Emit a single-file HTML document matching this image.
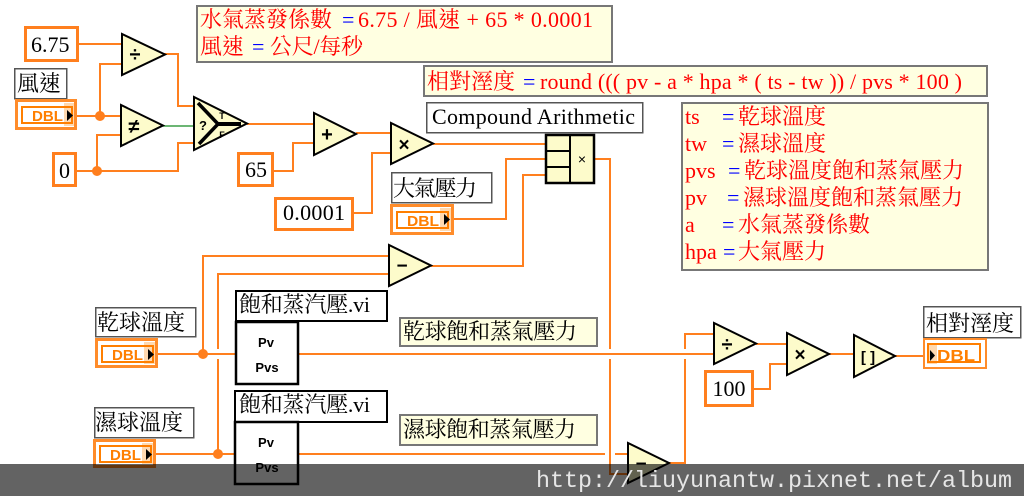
<!DOCTYPE html>
<html>
<head>
<meta charset="utf-8">
<style>
html,body{margin:0;padding:0;background:#fff;}
body{width:1024px;height:496px;overflow:hidden;}
svg{display:block;}
.t{font-family:"Liberation Serif","Noto Serif CJK TC","Noto Serif CJK SC",serif;font-size:22px;}
.r{fill:#f00;}
.b{fill:#0000ff;}
.k{fill:#000;}
.w{fill:none;stroke:#ff7f1e;stroke-width:2;}
.n{fill:#fdfbcb;stroke:#000;stroke-width:2;stroke-linejoin:miter;}
.sym{font-family:"Liberation Sans",sans-serif;font-weight:bold;fill:#000;text-anchor:middle;}
.dbl{font-family:"Liberation Sans",sans-serif;font-weight:bold;fill:#ff7f00;}
</style>
</head>
<body>
<svg width="1024" height="496" viewBox="0 0 1024 496" xmlns="http://www.w3.org/2000/svg">
<rect x="0" y="0" width="1024" height="496" fill="#fff"/>

<!-- ============ WIRES ============ -->
<g class="w">
  <path d="M79,44 H122"/>
  <path d="M77,116 H121"/>
  <path d="M100,116 V64 H122"/>
  <path d="M77,171 H178 V143 H194"/>
  <path d="M97,171 V135 H121"/>
  <path d="M164,54 H178 V106 H194"/>
  <path d="M247,124 H314"/>
  <path d="M274,171 H293 V143 H314"/>
  <path d="M356,133 H391"/>
  <path d="M354,213 H372 V153 H391"/>
  <path d="M433,144 H546"/>
  <path d="M454,219 H506 V159 H546"/>
  <path d="M431,266 H523 V175 H546"/>
  <!-- compound output down -->
  <path d="M594,159 H610 V349"/>
  <path d="M610,359 V474 H628"/>
  <!-- dry bulb -->
  <path d="M158,354 H236"/>
  <path d="M203,354 V256 H389"/>
  <path d="M298,354 H714"/>
  <!-- wet bulb -->
  <path d="M156,454 H235"/>
  <path d="M218,349 V274 H389"/>
  <path d="M218,454 V359"/>
  <path d="M298,454 H605"/>
  <path d="M615,454 H628"/>
  <!-- bottom subtract out -> divide top -->
  <path d="M669,463 H685 V359"/>
  <path d="M685,349 V334 H714"/>
  <path d="M756,344 H787"/>
  <path d="M754,389 H770 V364 H787"/>
  <path d="M829,354 H854"/>
  <path d="M895,356 H925"/>
</g>
<!-- boolean wire -->
<path d="M163,126 H194" fill="none" stroke="#3c9e46" stroke-width="1.6"/>

<!-- junction dots -->
<g fill="#ff7f1e">
  <circle cx="100" cy="116" r="5"/>
  <circle cx="97" cy="171" r="5"/>
  <circle cx="203" cy="354" r="5"/>
  <circle cx="218" cy="454" r="5"/>
</g>

<!-- ============ COMMENTS ============ -->
<rect x="197" y="6" width="415" height="56" fill="#ffffe1" stroke="#777" stroke-width="2"/>
<text class="t r" x="200" y="27">水氣蒸發係數</text>
<text class="t b" x="342" y="27">=</text>
<text class="t r" x="358" y="27" textLength="235" lengthAdjust="spacing">6.75 / 風速 + 65 * 0.0001</text>
<text class="t r" x="200" y="54">風速</text>
<text class="t b" x="252" y="54">=</text>
<text class="t r" x="270" y="54" textLength="93" lengthAdjust="spacing">公尺/每秒</text>

<rect x="424" y="66" width="563" height="30" fill="#ffffe1" stroke="#777" stroke-width="2"/>
<text class="t r" x="427" y="89">相對溼度</text>
<text class="t b" x="523" y="89">=</text>
<text class="t r" x="540" y="89" textLength="422" lengthAdjust="spacing">round ((( pv - a * hpa * ( ts - tw )) / pvs * 100 )</text>

<rect x="682" y="103" width="306" height="167" fill="#ffffe1" stroke="#777" stroke-width="2"/>
<g class="t">
  <text class="r" x="685" y="124">ts</text><text class="b" x="722" y="124">=</text><text class="r" x="738" y="124">乾球溫度</text>
  <text class="r" x="685" y="151">tw</text><text class="b" x="722" y="151">=</text><text class="r" x="738" y="151">濕球溫度</text>
  <text class="r" x="685" y="178">pvs</text><text class="b" x="728" y="178">=</text><text class="r" x="744" y="178">乾球溫度飽和蒸氣壓力</text>
  <text class="r" x="685" y="205">pv</text><text class="b" x="727" y="205">=</text><text class="r" x="743" y="205">濕球溫度飽和蒸氣壓力</text>
  <text class="r" x="685" y="232">a</text><text class="b" x="722" y="232">=</text><text class="r" x="738" y="232">水氣蒸發係數</text>
  <text class="r" x="685" y="259">hpa</text><text class="b" x="723" y="259">=</text><text class="r" x="738" y="259">大氣壓力</text>
</g>

<rect x="400" y="318" width="197" height="28" fill="#ffffe1" stroke="#777" stroke-width="2"/>
<text class="t k" x="403" y="339" textLength="174" lengthAdjust="spacing">乾球飽和蒸氣壓力</text>
<rect x="400" y="415" width="197" height="30" fill="#ffffe1" stroke="#777" stroke-width="2"/>
<text class="t k" x="403" y="437" textLength="173" lengthAdjust="spacing">濕球飽和蒸氣壓力</text>

<!-- ============ LABELS ============ -->
<g fill="#fff" stroke="#555" stroke-width="1.5">
  <rect x="14.75" y="68.75" width="52" height="30"/>
  <rect x="391.75" y="172.75" width="100" height="30"/>
  <rect x="95.75" y="307.75" width="100" height="29"/>
  <rect x="94.75" y="407.75" width="99" height="30"/>
  <rect x="923.75" y="306.75" width="97" height="31"/>
  <rect x="426.75" y="102.75" width="216" height="30"/>
</g>
<text class="t k" x="17" y="91">風速</text>
<text class="t k" x="393" y="196" textLength="84" lengthAdjust="spacing">大氣壓力</text>
<text class="t k" x="97" y="330">乾球溫度</text>
<text class="t k" x="95" y="430">濕球溫度</text>
<text class="t k" x="926" y="331">相對溼度</text>
<text class="t k" x="432" y="124" textLength="203" lengthAdjust="spacing">Compound Arithmetic</text>

<!-- VI labels and boxes -->
<rect x="236" y="291" width="151" height="30" fill="#fff" stroke="#000" stroke-width="2"/>
<text class="t k" x="239" y="312" textLength="131" lengthAdjust="spacing">飽和蒸汽壓.vi</text>
<rect x="236" y="322" width="62" height="62" fill="#fff" stroke="#000" stroke-width="2.5"/>
<text class="sym" x="266" y="347" font-size="13">Pv</text>
<text class="sym" x="267" y="372" font-size="13">Pvs</text>

<rect x="235" y="391" width="152" height="31" fill="#fff" stroke="#000" stroke-width="2"/>
<text class="t k" x="239" y="412" textLength="131" lengthAdjust="spacing">飽和蒸汽壓.vi</text>
<rect x="235" y="422" width="63" height="62" fill="#fff" stroke="#000" stroke-width="2.5"/>
<text class="sym" x="266" y="447" font-size="13">Pv</text>
<text class="sym" x="267" y="472" font-size="13">Pvs</text>

<!-- ============ CONSTANTS ============ -->
<g fill="#fff" stroke="#ff7f1e" stroke-width="3">
  <rect x="25.5" y="27.5" width="52" height="33"/>
  <rect x="53.5" y="153.5" width="22" height="32"/>
  <rect x="238.5" y="153.5" width="34" height="32"/>
  <rect x="275.5" y="198.5" width="77" height="31"/>
  <rect x="705.5" y="371.5" width="47" height="34"/>
</g>
<text class="t k" x="31" y="52">6.75</text>
<text class="t k" x="64.5" y="178" text-anchor="middle">0</text>
<text class="t k" x="256" y="177" text-anchor="middle">65</text>
<text class="t k" x="283" y="220" textLength="62" lengthAdjust="spacing">0.0001</text>
<text class="t k" x="729" y="396" text-anchor="middle">100</text>

<!-- ============ DBL CONTROLS ============ -->
<g>
  <!-- 風速 -->
  <rect x="16.5" y="100.5" width="59" height="28" fill="#fff" stroke="#ff8c2a" stroke-width="3"/>
  <rect x="64" y="103" width="10" height="23" fill="#ffd9b0"/>
  <rect x="22" y="107" width="50" height="16" fill="none" stroke="#ff7f00" stroke-width="2"/>
  <text class="dbl" x="32" y="121" font-size="15" textLength="31" lengthAdjust="spacingAndGlyphs">DBL</text>
  <polygon points="67,110 67,121 73,115.5" fill="#000"/>
</g>
<g>
  <!-- 大氣壓力 -->
  <rect x="391.5" y="205.5" width="61" height="28" fill="#fff" stroke="#ff8c2a" stroke-width="3"/>
  <rect x="440" y="208" width="11" height="23" fill="#ffd9b0"/>
  <rect x="397" y="212" width="51" height="16" fill="none" stroke="#ff7f00" stroke-width="2"/>
  <text class="dbl" x="407" y="226" font-size="15" textLength="32" lengthAdjust="spacingAndGlyphs">DBL</text>
  <polygon points="444,214 444,225 450,219.5" fill="#000"/>
</g>
<g>
  <!-- 乾球 -->
  <rect x="96.5" y="339.5" width="60" height="27" fill="#fff" stroke="#ff8c2a" stroke-width="3"/>
  <rect x="144" y="342" width="11" height="22" fill="#ffd9b0"/>
  <rect x="102" y="346" width="51" height="16" fill="none" stroke="#ff7f00" stroke-width="2"/>
  <text class="dbl" x="112" y="360" font-size="15" textLength="31" lengthAdjust="spacingAndGlyphs">DBL</text>
  <polygon points="148,349 148,360 154,354.5" fill="#000"/>
</g>
<g>
  <!-- 濕球 -->
  <rect x="94.5" y="440.5" width="60" height="26" fill="#fff" stroke="#ff8c2a" stroke-width="3"/>
  <rect x="142" y="443" width="11" height="21" fill="#ffd9b0"/>
  <rect x="100" y="446" width="51" height="16" fill="none" stroke="#ff7f00" stroke-width="2"/>
  <text class="dbl" x="110" y="460" font-size="15" textLength="31" lengthAdjust="spacingAndGlyphs">DBL</text>
  <polygon points="146,449 146,460 152,454.5" fill="#000"/>
</g>
<g>
  <!-- indicator 相對溼度 -->
  <rect x="924" y="339" width="62" height="29" fill="#fff" stroke="#ff8c2a" stroke-width="2"/>
  <rect x="927" y="343" width="10" height="21" fill="#ffd9b0"/>
  <rect x="928" y="344" width="52" height="18" fill="none" stroke="#ff7f00" stroke-width="2"/>
  <polygon points="930,350 930,361 935,355.5" fill="#000"/>
  <text class="dbl" x="937" y="361" font-size="16" textLength="38" lengthAdjust="spacingAndGlyphs">DBL</text>
</g>

<!-- ============ NODES ============ -->
<!-- divide -->
<polygon class="n" points="122,34 122,75 165,54.5"/>
<text class="sym" x="135" y="61" font-size="20">÷</text>
<!-- not equal -->
<polygon class="n" points="121,105 121,146 163,125.5"/>
<text class="sym" x="134" y="133" font-size="20">≠</text>
<!-- select -->
<polygon class="n" points="194,97 194,150 247,123.5"/>
<path d="M198,103 L218,124 M199,144 L218,124" stroke="#000" stroke-width="3.5" fill="none"/>
<path d="M217,124 H241" stroke="#000" stroke-width="4" fill="none"/>
<text class="sym" x="203" y="130" font-size="13">?</text>
<text class="sym" x="222" y="119" font-size="9">T</text>
<text class="sym" x="222" y="138" font-size="9">F</text>
<!-- plus -->
<polygon class="n" points="314,113 314,155 356,134"/>
<text class="sym" x="327" y="141" font-size="20">+</text>
<!-- multiply -->
<polygon class="n" points="391,123 391,164 433,143.5"/>
<text class="sym" x="404" y="151" font-size="19">×</text>
<!-- subtract -->
<polygon class="n" points="389,245 389,286 431,265.5"/>
<text class="sym" x="402" y="272" font-size="19">−</text>
<!-- compound arithmetic -->
<rect x="546" y="135" width="48" height="48" fill="#fdfbcb" stroke="#000" stroke-width="2.5"/>
<path d="M570,135 V183 M546,151 H570 M546,167 H570" stroke="#000" stroke-width="2" fill="none"/>
<text x="582" y="164" font-family="Liberation Sans,sans-serif" font-size="14" text-anchor="middle" fill="#000">×</text>
<!-- divide 2 -->
<polygon class="n" points="714,323 714,364 756,343.5"/>
<text class="sym" x="727" y="351" font-size="20">÷</text>
<!-- multiply 2 -->
<polygon class="n" points="787,333 787,375 829,354"/>
<text class="sym" x="800" y="361" font-size="19">×</text>
<!-- round -->
<polygon class="n" points="854,335 854,377 895,356"/>
<text class="sym" x="868" y="362" font-size="15">[ ]</text>
<!-- bottom subtract -->
<polygon class="n" points="628,443 628,483 669,463"/>
<text class="sym" x="641" y="470" font-size="19">−</text>

<!-- ============ WATERMARK ============ -->
<rect x="0" y="464" width="1024" height="32" fill="rgba(0,0,0,0.61)"/>
<text x="536" y="487" font-family="Liberation Mono,monospace" font-size="23" fill="#e6e6e6" textLength="476" lengthAdjust="spacingAndGlyphs">http://liuyunantw.pixnet.net/album</text>
</svg>
</body>
</html>
